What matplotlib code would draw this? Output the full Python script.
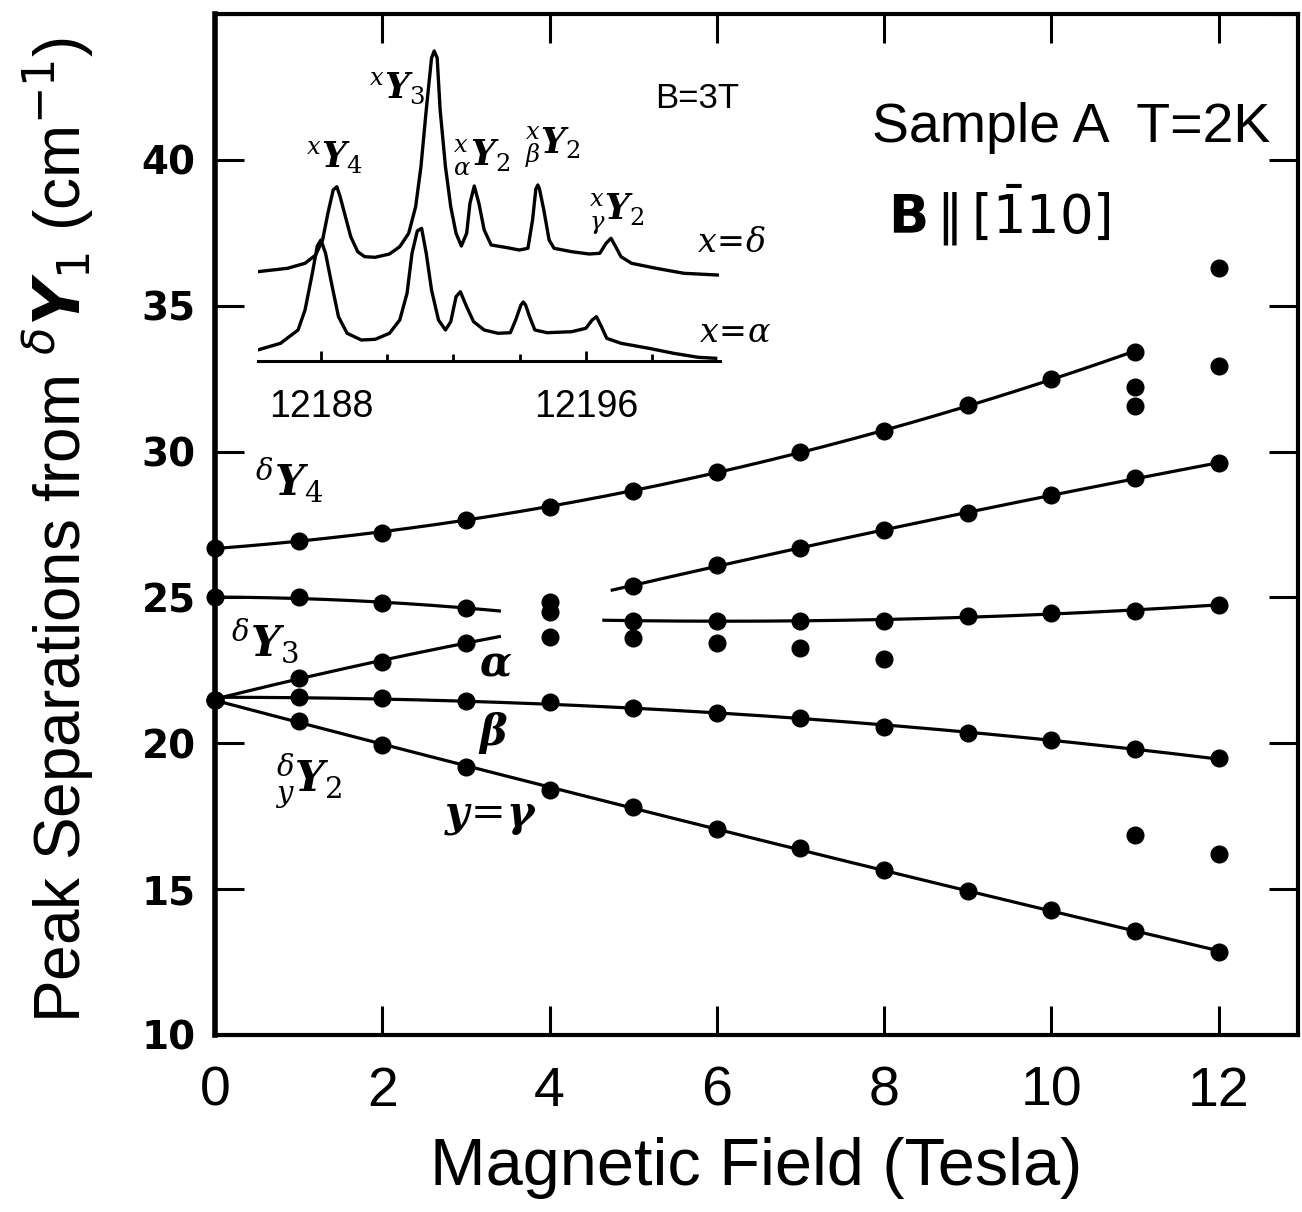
import numpy as np
import matplotlib.pyplot as plt

NARROW = ['Liberation Sans', 'DejaVu Sans']

# ---- main panel data (peak separations, cm^-1, vs field in Tesla) ----
y4_field = [0, 1, 2, 3, 4, 5, 6, 7, 8, 9, 10, 11]
y4_sep = [26.7, 26.95, 27.2, 27.65, 28.1, 28.65, 29.3, 30.0, 30.7, 31.6, 32.5, 33.4]

upper_field = [5, 6, 7, 8, 9, 10, 11, 12]
upper_sep = [25.4, 26.1, 26.7, 27.3, 27.9, 28.5, 29.1, 29.6]

mid_field = [5, 6, 7, 8, 9, 10, 11, 12]
mid_sep = [24.2, 24.2, 24.2, 24.2, 24.35, 24.45, 24.55, 24.75]

y3_field = [0, 1, 2, 3]
y3_sep = [25.0, 25.0, 24.8, 24.65]

alpha_field = [0, 1, 2, 3]
alpha_sep = [21.5, 22.25, 22.8, 23.45]

beta_field = [0, 1, 2, 3, 4, 5, 6, 7, 8, 9, 10, 11, 12]
beta_sep = [21.5, 21.6, 21.55, 21.45, 21.4, 21.2, 21.05, 20.85, 20.55, 20.35, 20.1, 19.8, 19.5]

gamma_field = [0, 1, 2, 3, 4, 5, 6, 7, 8, 9, 10, 11, 12]
gamma_sep = [21.5, 20.75, 19.95, 19.2, 18.4, 17.8, 17.05, 16.4, 15.65, 14.95, 14.3, 13.55, 12.85]

# points without a fitted curve
extra_field = [4, 4, 4, 5, 6, 7, 8, 11, 11, 12, 12, 11, 12]
extra_sep = [24.85, 24.5, 23.65, 23.6, 23.45, 23.25, 22.9, 32.2, 31.55, 36.3, 32.95, 16.85, 16.2]

# field range over which each fitted curve is drawn
fit_lo = [0, 4.75, 4.65, 0, 0, 0, 0]
fit_hi = [11, 12, 12, 3.4, 3.4, 12, 12]

# ---- inset spectra at B=3T (wavenumber cm^-1, intensity a.u.) ----
delta_wn = [12186.09, 12186.99, 12187.52, 12187.84, 12188.05, 12188.21, 12188.37, 12188.48,
            12188.58, 12188.74, 12188.90, 12189.11, 12189.32, 12189.64, 12190.07, 12190.38,
            12190.65, 12190.86, 12191.02, 12191.18, 12191.34, 12191.42, 12191.51, 12191.60,
            12191.76, 12191.92, 12192.08, 12192.24, 12192.40, 12192.50, 12192.63, 12192.77,
            12192.93, 12193.14, 12193.56, 12193.99, 12194.25, 12194.39, 12194.49, 12194.55,
            12194.60, 12194.73, 12194.89, 12195.04, 12195.57, 12196.10, 12196.42, 12196.61,
            12196.76, 12196.90, 12197.06, 12197.38, 12198.12, 12198.96, 12199.97]
delta_int = [8.93, 9.27, 9.77, 10.6, 12.1, 14.77, 17.1, 17.43,
             16.43, 14.43, 12.43, 10.93, 10.43, 10.37, 10.7, 11.43,
             12.77, 15.43, 19.43, 25.1, 30.3, 31.0, 30.3, 25.1,
             19.43, 15.43, 12.77, 11.5, 12.77, 15.77, 17.5, 15.77,
             13.1, 11.6, 11.37, 11.1, 11.27, 14.1, 17.2, 17.6,
             17.2, 15.1, 12.1, 11.27, 10.93, 10.7, 10.77, 11.77,
             12.27, 11.43, 10.43, 9.77, 9.27, 8.77, 8.6]

alpha_wn = [12186.09, 12186.78, 12187.31, 12187.52, 12187.74, 12187.89, 12188.00, 12188.14,
            12188.32, 12188.53, 12188.79, 12189.22, 12189.64, 12190.07, 12190.38, 12190.60,
            12190.75, 12190.91, 12191.04, 12191.18, 12191.34, 12191.55, 12191.76, 12191.92,
            12192.08, 12192.21, 12192.40, 12192.61, 12192.93, 12193.35, 12193.72, 12193.88,
            12194.04, 12194.11, 12194.18, 12194.30, 12194.46, 12194.83, 12195.57, 12196.00,
            12196.19, 12196.32, 12196.47, 12196.63, 12197.06, 12197.90, 12198.65, 12199.39,
            12199.92]
alpha_int = [1.1, 1.77, 3.1, 5.1, 8.77, 11.5, 12.1, 10.77,
             7.77, 4.43, 2.77, 2.1, 2.17, 2.77, 4.1, 6.77,
             10.77, 13.0, 13.27, 10.77, 7.1, 4.1, 3.1, 3.93,
             6.43, 6.93, 5.43, 3.93, 3.1, 2.77, 2.83, 4.1,
             5.6, 5.9, 5.6, 4.43, 3.1, 2.83, 2.93, 3.27,
             4.1, 4.43, 3.43, 2.27, 1.77, 1.27, 0.77, 0.37,
             0.27]

inset_ticks = [12188, 12196]
inset_minor = [12190, 12192, 12194, 12198]

main_xticks = [0, 2, 4, 6, 8, 10, 12]
main_yticks = [10, 15, 20, 25, 30, 35, 40, 45]

fig = plt.figure(figsize=(13.02, 12.12), dpi=100)
W, H = 1302.0, 1212.0
ax = fig.add_axes([215 / W, 1 - 1035 / H, (1298 - 215) / W, (1035 - 14) / H])

series = [(y4_field, y4_sep), (upper_field, upper_sep), (mid_field, mid_sep),
          (y3_field, y3_sep), (alpha_field, alpha_sep), (beta_field, beta_sep),
          (gamma_field, gamma_sep)]

for (fx, fy), lo, hi in zip(series, fit_lo, fit_hi):
    c = np.polyfit(fx, fy, 2)
    xx = np.linspace(lo, hi, 200)
    ax.plot(xx, np.polyval(c, xx), color='black', lw=2.3, zorder=2)
    ax.plot(fx, fy, 'o', color='black', ms=12, zorder=3, clip_on=False)

ax.plot(extra_field, extra_sep, 'o', color='black', ms=12, zorder=3)

ax.set_xlim(0, 12.95)
ax.set_ylim(10, 45)
ax.set_xticks(main_xticks)
ax.set_yticks(main_yticks)
ax.set_yticklabels(['10', '15', '20', '25', '30', '35', '40', ''])
ax.tick_params(axis='both', direction='in', length=21, width=2.2,
               top=True, right=True)
ax.tick_params(axis='x', pad=22, labelsize=40)
ax.tick_params(axis='y', pad=14, labelsize=28)
for lab in ax.get_xticklabels():
    lab.set_family(NARROW)
for lab in ax.get_yticklabels():
    lab.set_family('DejaVu Sans')
    lab.set_weight('bold')
for sp in ax.spines.values():
    sp.set_linewidth(3)
ax.spines['left'].set_linewidth(4)

fig.text(756 / W, 1 - 1168 / H, 'Magnetic Field (Tesla)', family=NARROW,
         fontsize=48, ha='center', va='center')
fig.text(58 / W, 1 - 530 / H, r'Peak Separations from ${}^{\delta}\mathbfit{Y}_{1}$ (cm$^{-1}$)',
         family=NARROW, fontsize=46, rotation=90, ha='center', va='center')

ax.text(12.62, 41.1, 'Sample A  T=2K', family=NARROW, fontsize=40, ha='right', va='center')
ax.text(8.05, 38.1, r'$\mathbf{B}\,\Vert\,[\bar{1}10]$', fontsize=38, ha='left', va='center')

# branch labels
lab_kw = dict(fontsize=30, math_fontfamily='dejavuserif', ha='center', va='center')
ax.text(0.88, 29.0, r'${}^{\delta}\mathbfit{Y}_{4}$', **lab_kw)
ax.text(0.6, 23.5, r'${}^{\delta}\mathbfit{Y}_{3}$', **lab_kw)
ax.text(3.35, 22.7, r'$\mathbfit{\alpha}$', **lab_kw)
ax.text(3.33, 20.35, r'$\mathbfit{\beta}$', **lab_kw)
ax.text(1.12, 18.7, r'${}^{\delta}_{y}\mathbfit{Y}_{2}$', **lab_kw)
ax.text(3.3, 17.5, r'$\mathbfit{y}\!=\!\mathbfit{\gamma}$', **lab_kw)

# ---- inset ----
axi = fig.add_axes([258 / W, 1 - 361 / H, (720 - 258) / W, (361 - 40) / H])
axi.patch.set_alpha(0)
axi.plot(delta_wn, delta_int, color='black', lw=2.4)
axi.plot(alpha_wn, alpha_int, color='black', lw=2.4)
axi.set_xlim(12186.1, 12200.05)
axi.set_ylim(0, 32.1)
for k in ['top', 'left', 'right']:
    axi.spines[k].set_visible(False)
axi.spines['bottom'].set_linewidth(2.2)
axi.set_yticks([])
axi.set_xticks(inset_ticks)
axi.set_xticks(inset_minor, minor=True)
axi.set_xticklabels(['12188', '12196'])
axi.tick_params(axis='x', which='major', direction='in', length=7, width=2,
                pad=20, labelsize=27)
axi.tick_params(axis='x', which='minor', direction='in', length=5, width=2)
for lab in axi.get_xticklabels():
    lab.set_family(NARROW)

ilab = dict(fontsize=25, math_fontfamily='dejavuserif', ha='center', va='center')
axi.text(12188.4, 20.3, r'${}^{x}\mathbfit{Y}_{4}$', **ilab)
axi.text(12190.3, 27.3, r'${}^{x}\mathbfit{Y}_{3}$', **ilab)
axi.text(12192.86, 20.4, r'${}^{x}_{\alpha}\mathbfit{Y}_{2}$', **ilab)
axi.text(12195.0, 21.4, r'${}^{x}_{\beta}\mathbfit{Y}_{2}$', **ilab)
axi.text(12196.94, 14.7, r'${}^{x}_{\gamma}\mathbfit{Y}_{2}$', **ilab)
axi.text(12200.4, 11.9, r'$x\!=\!\delta$', fontsize=24, math_fontfamily='dejavuserif',
         ha='center', va='center')
axi.text(12200.5, 2.9, r'$x\!=\!\alpha$', fontsize=24, math_fontfamily='dejavuserif',
         ha='center', va='center')
axi.text(12199.36, 26.2, 'B=3T', family=NARROW, fontsize=25, ha='center', va='center')

fig.savefig('out.png', dpi=100)
